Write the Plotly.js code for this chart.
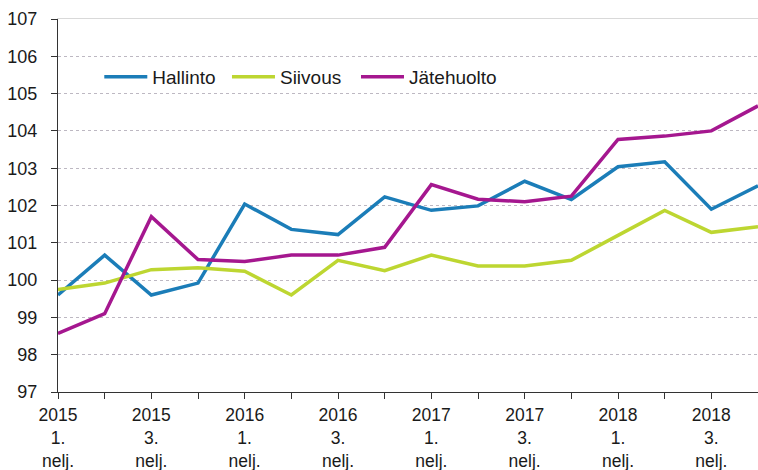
<!DOCTYPE html>
<html>
<head>
<meta charset="utf-8">
<script src="https://cdn.plot.ly/plotly-3.0.1.min.js"></script>
<style>html,body{margin:0;padding:0;background:#fff;}#chart{width:758px;height:470px;}</style>
</head>
<body>
<div id="chart"></div>
<script>
// Quarters 2015 Q1 .. 2018 Q4
var years = [2015,2015,2015,2015,2016,2016,2016,2016,2017,2017,2017,2017,2018,2018,2018,2018];
var quarterNums = [1,2,3,4,1,2,3,4,1,2,3,4,1,2,3,4];
var seriesNames = ["Hallinto", "Siivous", "J\u00e4tehuolto"];
var hallinto   = [99.6, 100.67, 99.6, 99.92, 102.04, 101.36, 101.22, 102.23, 101.87, 101.99, 102.65, 102.16, 103.04, 103.17, 101.9, 102.53];
var siivous    = [99.75, 99.92, 100.28, 100.33, 100.24, 99.6, 100.53, 100.25, 100.67, 100.38, 100.38, 100.53, 101.2, 101.87, 101.28, 101.43];
var jatehuolto = [98.57, 99.1, 101.7, 100.55, 100.5, 100.67, 100.67, 100.88, 102.56, 102.17, 102.1, 102.25, 103.77, 103.86, 104.0, 104.67];
var yTicks = [97,98,99,100,101,102,103,104,105,106,107];

var cats = years.map(function(y,i){ return y + "Q" + quarterNums[i]; });
var tickText = years.map(function(y,i){ return (quarterNums[i] % 2 === 1) ? (y + "<br>" + quarterNums[i] + ".<br>nelj.") : ""; });

var colors = ["#1b7db8", "#bdd631", "#a5178f"];
var legendIds = ["legend", "legend2", "legend3"];
var font = {family: "Liberation Sans, Arial, sans-serif", size: 17.5, color: "#1a1a1a"};

var data = [hallinto, siivous, jatehuolto].map(function(vals, i){
  return {x: cats, y: vals, type: "scatter", mode: "lines", name: seriesNames[i],
          legend: legendIds[i], line: {color: colors[i], width: 3.5}};
});
// invisible trace to carry the top frame axis
data.push({x: cats, y: hallinto, xaxis: "x2", type: "scatter", mode: "none", showlegend: false, hoverinfo: "skip", opacity: 0});

function legendAt(xp) {
  return {orientation: "h", x: xp, xanchor: "left", y: 0.845, yanchor: "middle",
          font: {family: font.family, size: 19, color: "#1a1a1a"},
          bgcolor: "rgba(0,0,0,0)", itemwidth: 43};
}

var layout = {
  width: 758, height: 470,
  margin: {l: 58, r: 0, t: 19, b: 78},
  paper_bgcolor: "#fff", plot_bgcolor: "#fff",
  font: font,
  showlegend: true,
  legend: legendAt(0.059),
  legend2: legendAt(0.2414),
  legend3: legendAt(0.4257),
  xaxis: {type: "category", categoryorder: "array", categoryarray: cats,
          range: [0, 15], tickmode: "array", tickvals: cats, ticktext: tickText,
          showgrid: false, zeroline: false, showline: true, linecolor: "#333", linewidth: 1,
          ticks: "outside", ticklen: 6, tickcolor: "#333", tickangle: 0,
          tickfont: font, ticklabelstandoff: 1, fixedrange: true},
  xaxis2: {type: "category", categoryorder: "array", categoryarray: cats, range: [0, 15],
           overlaying: "x", side: "top", showline: true, linecolor: "#d9d9d9", linewidth: 1,
           showticklabels: false, ticks: "", showgrid: false, zeroline: false},
  yaxis: {range: [97, 107], tickmode: "array", tickvals: yTicks, ticktext: yTicks.map(String),
          showgrid: true, gridcolor: "#bdb8c2", griddash: "dot", gridwidth: 1,
          zeroline: false, showline: true, linecolor: "#333", linewidth: 1,
          ticks: "outside", ticklen: 6, tickcolor: "#333", tickfont: {family: font.family, size: 18, color: "#1a1a1a"},
          ticklabelstandoff: 10, fixedrange: true}
};

Plotly.newPlot("chart", data, layout, {displayModeBar: false, staticPlot: true});
</script>
</body>
</html>
